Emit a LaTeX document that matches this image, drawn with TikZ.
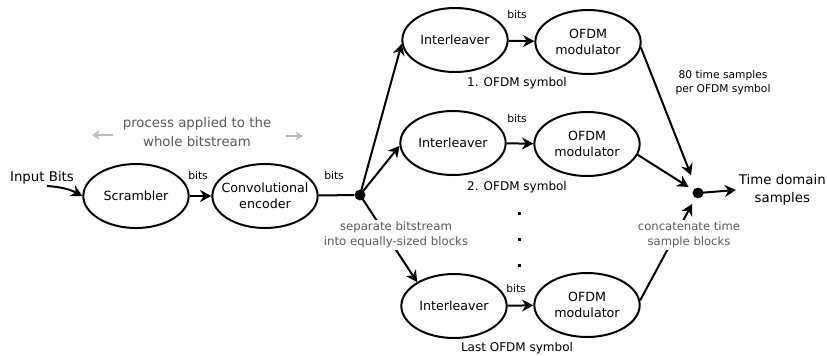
\documentclass[tikz,border=0pt]{standalone}
\usepackage{fontspec}
\setmainfont{DejaVu Sans}
\usetikzlibrary{arrows.meta,shapes.geometric}
\definecolor{notegray}{HTML}{5A5A5A}
\definecolor{hintgray}{HTML}{BBBBBB}
\begin{document}
\begin{tikzpicture}[x=0.75pt,y=-0.75pt,
  proc/.style={ellipse, draw, line width=1.5pt, minimum width=79pt, minimum height=48pt,
    inner xsep=-10pt, inner ysep=0pt, align=center, font=\fontsize{9.5}{12}\selectfont},
  junction/.style={circle, fill, inner sep=0pt, minimum size=8.2pt},
  flow/.style={line width=1.5pt, -{Stealth[length=8.5pt,width=9pt,inset=2.8pt]}},
  plainflow/.style={line width=1.5pt},
  hint/.style={line width=1.1pt, hintgray, -{Stealth[length=5.5pt,width=6.5pt,inset=1.5pt]}},
  bitlabel/.style={font=\fontsize{8}{10}\selectfont, inner sep=1pt},
  symlabel/.style={font=\fontsize{9}{11}\selectfont, inner sep=1pt},
  note/.style={align=center, text=notegray, fill=white, inner sep=1.5pt, font=\fontsize{8.8}{11.3}\selectfont},
  bigtext/.style={align=center, inner sep=2pt, font=\fontsize{10}{13.5}\selectfont}
]
\useasboundingbox (0,0) rectangle (827,355);

% processing blocks
\node[proc] (scr)  at (136,196) {Scrambler};
\node[proc] (conv) at (265,196) {Convolutional\\encoder};
\node[junction] (split) at (360,195) {};

\node[proc] (int1) at (455,40)  {Interleaver};
\node[proc] (mod1) at (588,42)  {OFDM\\modulator};
\node[proc] (int2) at (453,143) {Interleaver};
\node[proc] (mod2) at (587,144) {OFDM\\modulator};
\node[proc] (int3) at (454,306) {Interleaver};
\node[proc] (mod3) at (587,305) {OFDM\\modulator};

\node[junction] (merge) at (698,193) {};

% input and output
\node[bigtext] (inp) at (42,178) {Input Bits};
\coordinate (inStart) at (47,186);
\node[bigtext, anchor=west] (out) at (736,190) {Time domain\\samples};

% serial chain
\draw[flow] (inStart) to[bend left=12] (scr.west);
\draw[flow] (scr) -- (conv);
\draw[plainflow] (conv) -- (split);

% fan-out into the symbol branches
\draw[flow] (split.center) -- (int1.184);
\draw[flow] (split.center) -- (int2.183);
\draw[flow] (split.center) -- (int3.147);

\draw[flow] (int1) -- (mod1);
\draw[flow] (int2) -- (mod2);
\draw[flow] (int3) -- (mod3);

% fan-in of the time samples
\draw[flow, shorten >=10pt] (mod1.-6) -- (merge);
\draw[flow, shorten >=4pt] (mod2.-12) -- (merge);
\draw[flow, shorten >=5pt] (mod3.5) -- (merge);
\draw[flow] (merge.center) -- (out.west);

% edge labels
\node[bitlabel] (b1) at (198,176) {bits};
\node[bitlabel] (b2) at (334,176) {bits};
\node[bitlabel] (b3) at (517,15)  {bits};
\node[bitlabel] (b4) at (517,119) {bits};
\node[bitlabel] (b5) at (516,289) {bits};

\node[symlabel] (s1) at (517,83)  {1. OFDM symbol};
\node[symlabel] (s2) at (517,187) {2. OFDM symbol};
\node[symlabel] (s3) at (517,348) {Last OFDM symbol};

\node[align=center, inner sep=1pt, font=\fontsize{8}{10.5}\selectfont] (tsamp) at (723,83)
  {80 time samples\\per OFDM symbol};

% notes laid over the connectors
\node[note] (sep) at (396,235) {separate bitstream\\into equally-sized blocks};
\node[note, font=\fontsize{8.7}{11.3}\selectfont] (cat) at (689,235) {concatenate time\\sample blocks};

% whole-bitstream remark with its hint arrows
\node[note, font=\fontsize{10}{14}\selectfont] (proc) at (197,132) {process applied to the\\whole bitstream};
\coordinate (hl1) at (113,135);
\coordinate (hl2) at (92,135);
\coordinate (hr1) at (286,136);
\coordinate (hr2) at (303,136);
\draw[hint] (hl1) -- (hl2);
\draw[hint] (hr1) -- (hr2);

% vertical ellipsis between the branches
\fill (517.5,211.5) rectangle (520.5,214.5);
\fill (517.5,237.5) rectangle (520.5,240.5);
\fill (517.5,263.5) rectangle (520.5,266.5);
\end{tikzpicture}
\end{document}
